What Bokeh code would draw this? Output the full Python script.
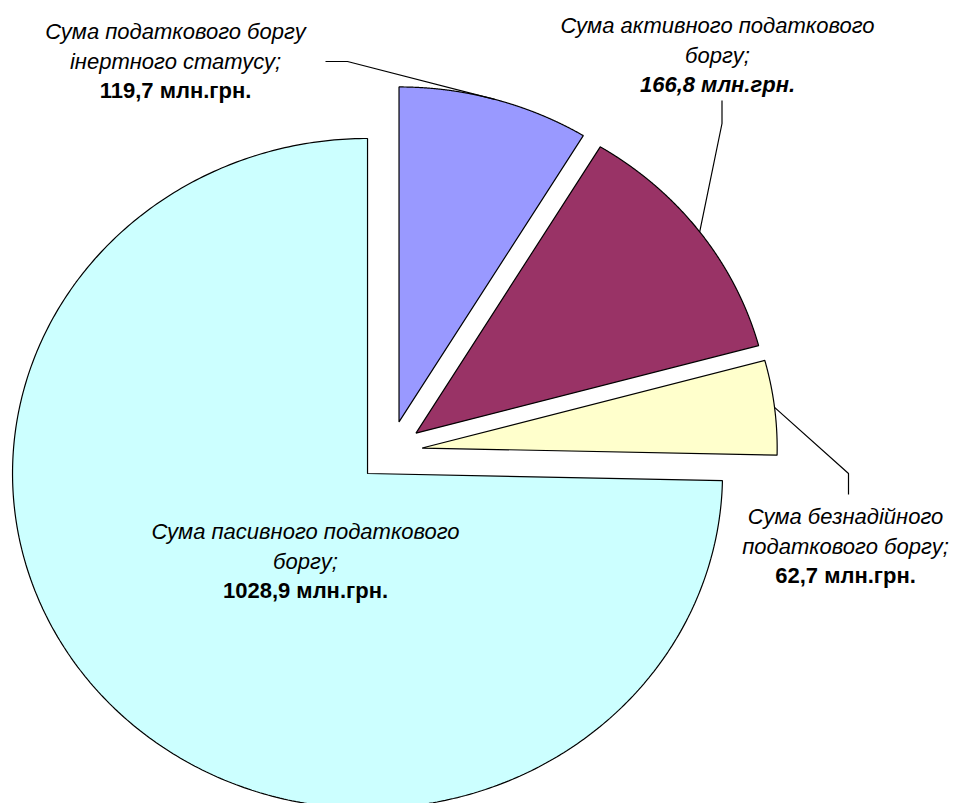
import numpy as np
from bokeh.plotting import figure
from bokeh.models import Range1d, ColumnDataSource
from bokeh.core.properties import value
from bokeh.embed import file_html
from bokeh.resources import INLINE

# ---- data ----
categories = ["інертного статусу", "активного", "безнадійного", "пасивного"]
values = [119.7, 166.8, 62.7, 1028.9]
label_lines = [
    ["Сума податкового боргу", "інертного статусу;"],
    ["Сума активного податкового", "боргу;"],
    ["Сума безнадійного", "податкового боргу;"],
    ["Сума пасивного податкового", "боргу;"],
]
unit = " млн.грн."
colors = ["#9999FF", "#993366", "#FFFFCC", "#CCFFFF"]

# ---- layout (image pixel space) ----
ORG = 0
W, H = 955, 803
CX, CY = 389.9, 451.3        # common pie centre
RX, RY = 355.0, 335.0        # elliptical radii
EX, EY = 32.0, 31.0          # explosion distance
label_pos = [(175, 31), (717, 25), (845, 516), (305, 531)]
value_style = ["bold", "bold italic", "bold", "bold"]
leader_pts = [
    [(325, 61), (347, 61), "arc"],
    [(721.5, 100), (721.5, 123), "arc"],
    ["arc", (848, 473), (848, 494)],
    [],
]
LINE_GAP = 29.5
FONT = value("Liberation Sans")
FS = "22px"


def fx(X):
    return X - CX


def fy(Y):
    return CY - Y


p = figure(width=W, height=H, output_backend="svg", toolbar_location=None,
           x_axis_type=None, y_axis_type=None, min_border=0,
           x_range=Range1d(fx(ORG), fx(ORG + W)), y_range=Range1d(fy(ORG + H), fy(ORG)))
p.outline_line_color = None
p.grid.visible = False
p.background_fill_color = "white"
p.border_fill_color = "white"

total = float(sum(values))
xs, ys, mids, offs = [], [], [], []
cum = 0.0
for v in values:
    a0 = np.deg2rad(90 - cum / total * 360)
    a1 = np.deg2rad(90 - (cum + v) / total * 360)
    cum += v
    m = (a0 + a1) / 2
    ox, oy = EX * np.cos(m), EY * np.sin(m)
    t = np.linspace(a0, a1, 400)
    xs.append([ox] + list(ox + RX * np.cos(t)) + [ox])
    ys.append([oy] + list(oy + RY * np.sin(t)) + [oy])
    mids.append(m)
    offs.append((ox, oy))

src = ColumnDataSource(dict(xs=xs, ys=ys, color=colors, name=categories))
p.patches("xs", "ys", source=src, fill_color="color", line_color="#000000",
          line_width=1.2)

# leader lines
lx, ly = [], []
for i, pts in enumerate(leader_pts):
    if not pts:
        continue
    ox, oy = offs[i]
    m = mids[i]
    ax_, ay_ = ox + RX * np.cos(m), oy + RY * np.sin(m)
    xx, yy = [], []
    for pt in pts:
        if pt == "arc":
            xx.append(ax_); yy.append(ay_)
        else:
            xx.append(fx(pt[0])); yy.append(fy(pt[1]))
    lx.append(xx); ly.append(yy)
p.multi_line(lx, ly, line_color="#000000", line_width=1.2)

# labels
for i, lines in enumerate(label_lines):
    X, Y = label_pos[i]
    tx = [fx(X)] * len(lines)
    ty = [fy(Y + k * LINE_GAP) for k in range(len(lines))]
    p.text(tx, ty, text=lines, text_align="center", text_baseline="middle",
           text_font=FONT, text_font_size=FS, text_font_style="italic",
           text_color="#000000")
    vtxt = f"{values[i]:.1f}".replace(".", ",") + unit
    p.text([fx(X)], [fy(Y + len(lines) * LINE_GAP)], text=[vtxt],
           text_align="center", text_baseline="middle", text_font=FONT,
           text_font_size=FS, text_font_style=value_style[i],
           text_color="#000000")

open("out.html", "w").write(file_html(p, INLINE))
